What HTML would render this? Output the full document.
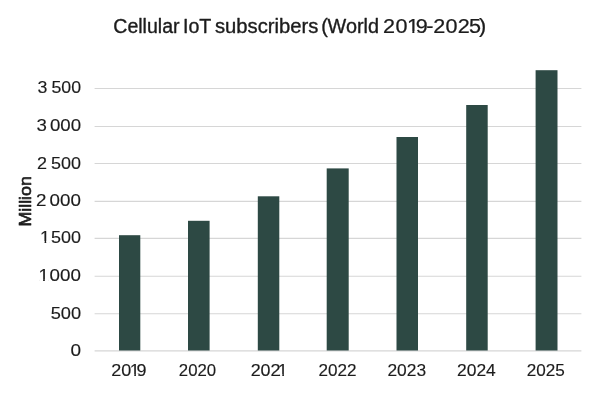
<!DOCTYPE html>
<html>
<head>
<meta charset="utf-8">
<title>Cellular IoT subscribers (World 2019-2025)</title>
<style>
html,body{margin:0;padding:0;background:#fff;}
body{width:600px;height:400px;overflow:hidden;position:relative;font-family:"Liberation Sans",sans-serif;}
svg{display:block;position:absolute;left:0;top:0;}
text{font-family:"Liberation Sans",sans-serif;fill:#1c1c1c;stroke:#1c1c1c;stroke-linejoin:round;white-space:pre;}
</style>
</head>
<body>
<svg width="600" height="400" viewBox="0 0 600 400">
<rect x="0" y="0" width="600" height="400" fill="#ffffff"/>
<g stroke="#d6d6d6" stroke-width="1.1" fill="none">
<line x1="94.6" x2="581.4" y1="88.5" y2="88.5"/>
<line x1="94.6" x2="581.4" y1="126.5" y2="126.5"/>
<line x1="94.6" x2="581.4" y1="163.5" y2="163.5"/>
<line x1="94.6" x2="581.4" y1="201.4" y2="201.4"/>
<line x1="94.6" x2="581.4" y1="238.4" y2="238.4"/>
<line x1="94.6" x2="581.4" y1="276.2" y2="276.2"/>
<line x1="94.6" x2="581.4" y1="313.7" y2="313.7"/>
<line x1="94.6" x2="581.4" y1="350.9" y2="350.9"/>
</g>
<g fill="#2d4944">
<rect x="119" y="235.2" width="21.3" height="115.3"/>
<rect x="188" y="220.8" width="21.6" height="129.7"/>
<rect x="257.8" y="196.3" width="21.5" height="154.2"/>
<rect x="326.7" y="168.4" width="22.0" height="182.1"/>
<rect x="396.5" y="137" width="21.5" height="213.5"/>
<rect x="466.2" y="105" width="21.5" height="245.5"/>
<rect x="535.6" y="70.2" width="21.9" height="280.3"/>
</g>
<g>
<text transform="matrix(0.9980 0 0 1 0 33.10)" x="113.51" y="0" font-size="19.6" stroke-width="0.36">Cellular</text>
<text transform="matrix(1.0018 0 0 1 0 33.10)" x="182.64" y="0" font-size="19.6" stroke-width="0.36">IoT</text>
<text transform="matrix(1.0333 0 0 1 0 33.10)" x="208.05" y="0" font-size="19.6" stroke-width="0.36">subscribers</text>
<text transform="matrix(1.0115 0 0 1 0 33.10)" x="317.51 323.87" y="0" font-size="19.6" stroke-width="0.36">(World</text>
<text transform="matrix(1.1000 0 0 1 0 33.10)" x="348.12 359.49 369.98 377.94 387.56 393.76 405.08 416.17 426.37 435.52" y="0" font-size="19.6" stroke-width="0.25">2019-2025)</text>
<text transform="matrix(1.0434 0 0 1 0 93.20)" x="35.89 44.58 49.30" y="0" font-size="17.0" stroke-width="0.15">3 500</text>
<text transform="matrix(1.0982 0 0 1 0 130.60)" x="33.16 40.73 45.45" y="0" font-size="17.0" stroke-width="0.15">3 000</text>
<text transform="matrix(1.0580 0 0 1 0 168.50)" x="35.02 43.42 48.14" y="0" font-size="17.0" stroke-width="0.15">2 500</text>
<text transform="matrix(1.1055 0 0 1 0 206.20)" x="32.58 40.16 44.88" y="0" font-size="17.0" stroke-width="0.15">2 000</text>
<text transform="matrix(1.0580 0 0 1 0 243.10)" x="37.89 43.42 48.14" y="0" font-size="17.0" stroke-width="0.15">1 500</text>
<text transform="matrix(1.1055 0 0 1 0 280.80)" x="34.75 40.16 44.88" y="0" font-size="17.0" stroke-width="0.15">1 000</text>
<text transform="matrix(1.0726 0 0 1 0 319.00)" x="47.29" y="0" font-size="17.0" stroke-width="0.15">500</text>
<text transform="matrix(1.1176 0 0 1 0 355.90)" x="63.17" y="0" font-size="17.0" stroke-width="0.15">0</text>
<text transform="matrix(1.0600 0 0 1 0 375.60)" x="104.86 114.32 122.43 128.83" y="0" font-size="17.0" stroke-width="0.15">2019</text>
<text transform="matrix(0.9891 0 0 1 0 375.60)" x="180.78" y="0" font-size="17.0" stroke-width="0.15">2020</text>
<text transform="matrix(1.0529 0 0 1 0 375.60)" x="238.07 247.52 256.97 263.86" y="0" font-size="17.0" stroke-width="0.15">2021</text>
<text transform="matrix(1.0074 0 0 1 0 375.60)" x="316.07" y="0" font-size="17.0" stroke-width="0.15">2022</text>
<text transform="matrix(1.0239 0 0 1 0 375.60)" x="378.35" y="0" font-size="17.0" stroke-width="0.15">2023</text>
<text transform="matrix(1.0274 0 0 1 0 375.60)" x="444.81" y="0" font-size="17.0" stroke-width="0.15">2024</text>
<text transform="matrix(1.0074 0 0 1 0 375.60)" x="522.95" y="0" font-size="17.0" stroke-width="0.15">2025</text>
<text transform="translate(31.1,226.59) rotate(-90) scale(1.0998,1)" font-size="16.2" stroke-width="0.65">Million</text>
</g>
<g fill="#ffffff">
<rect x="407.97" y="31.00" width="4.35" height="3.00"/>
<rect x="414.38" y="31.00" width="3.35" height="3.00"/>
<rect x="40.91" y="241.00" width="3.68" height="3.00"/>
<rect x="46.23" y="241.00" width="3.54" height="3.00"/>
<rect x="39.29" y="279.00" width="3.82" height="3.00"/>
<rect x="44.83" y="279.00" width="3.67" height="3.00"/>
<rect x="130.60" y="374.00" width="3.68" height="2.00"/>
<rect x="135.92" y="374.00" width="2.50" height="2.00"/>
<rect x="280.07" y="374.00" width="2.22" height="2.00"/>
<rect x="283.92" y="374.00" width="3.52" height="2.00"/>
</g>
</svg>
</body>
</html>
